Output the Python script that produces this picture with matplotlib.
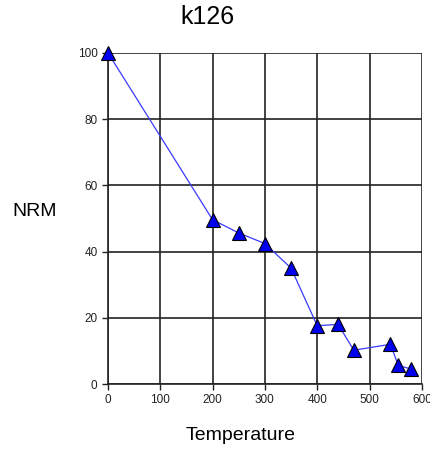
import matplotlib
matplotlib.use("Agg")
import matplotlib.pyplot as plt

plt.rcParams['font.family'] = ['Liberation Sans', 'DejaVu Sans']

# demagnetisation steps
temperature = [0, 200, 250, 300, 350, 400, 440, 470, 540, 555, 580]
nrm = [100, 49.6, 45.6, 42.4, 35.0, 17.6, 18.0, 10.2, 12.0, 5.6, 4.5]

x_ticks = [0, 100, 200, 300, 400, 500, 600]
y_ticks = [0, 20, 40, 60, 80, 100]

W, H = 430, 455
fig = plt.figure(figsize=(W / 100, H / 100), dpi=100)
ax = fig.add_axes([0.251, 0.156, 0.730, 0.728])

ax.plot(temperature, nrm, color='#3a3aff', linewidth=0.9,
        marker='^', markersize=9.5, markerfacecolor='#0000ee',
        markeredgecolor='black', markeredgewidth=0.8, clip_on=False, zorder=3)

ax.set_xlim(0, 600)
ax.set_ylim(0, 100)
ax.set_xticks(x_ticks)
ax.set_yticks(y_ticks)
ax.grid(True, color='#222222', linewidth=1.2)
for side in ['top', 'right']:
    ax.spines[side].set_visible(False)
for side in ['left', 'bottom']:
    ax.spines[side].set_color('#222222')
    ax.spines[side].set_linewidth(1.2)
ax.tick_params(axis='both', labelsize=8.5, colors='#222222', length=4, width=1)
ax.tick_params(axis='x', pad=3)

# title and axis labels placed in figure pixels, as in the reference
fig.text(207 / W, 1 - 17 / H, 'k126', fontsize=18, ha='center', va='center')
fig.text(241 / W, 1 - 436 / H, 'Temperature', fontsize=14, ha='center', va='center')
fig.text(35 / W, 1 - 211 / H, 'NRM', fontsize=14, ha='center', va='center')

fig.savefig('out.png', dpi=100)
